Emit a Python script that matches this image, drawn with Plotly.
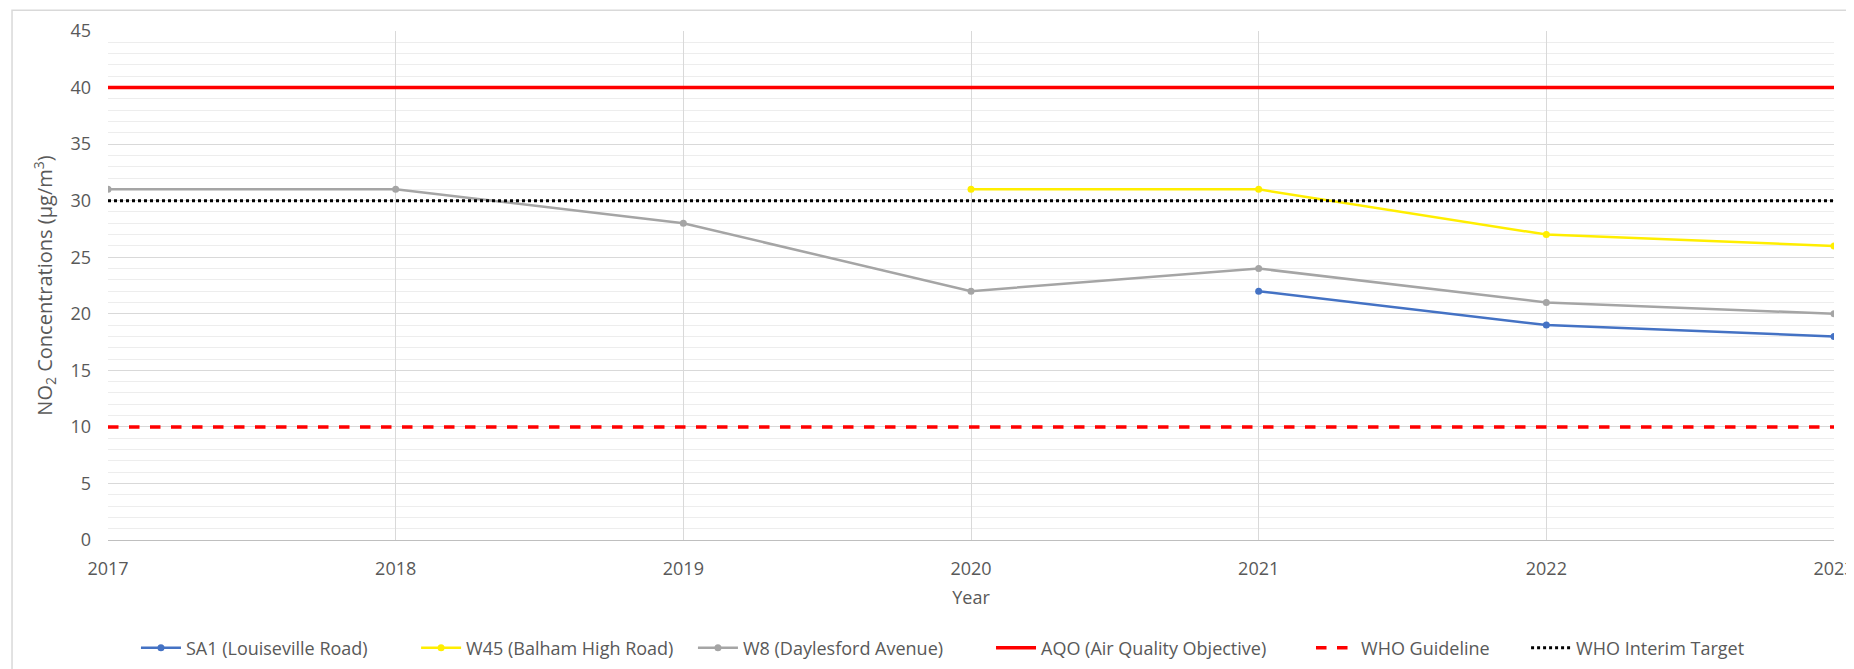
import plotly.graph_objects as go

years = [2017, 2018, 2019, 2020, 2021, 2022, 2023]

sa1_years = [2021, 2022, 2023]
sa1_values = [22, 19, 18]

w45_years = [2020, 2021, 2022, 2023]
w45_values = [31, 31, 27, 26]

w8_years = [2017, 2018, 2019, 2020, 2021, 2022, 2023]
w8_values = [31, 31, 28, 22, 24, 21, 20]

aqo_value = 40
who_guideline = 10
who_interim = 30

FONT = "Open Sans"
GREY = "#595959"

fig = go.Figure()

fig.add_trace(go.Scatter(x=sa1_years, y=sa1_values, mode="lines+markers",
                         name="SA1 (Louiseville Road)", legend="legend",
                         line=dict(color="#4472C4", width=2.5),
                         marker=dict(size=7, color="#4472C4")))
fig.add_trace(go.Scatter(x=w45_years, y=w45_values, mode="lines+markers",
                         name="W45 (Balham High Road)", legend="legend2",
                         line=dict(color="#FFEE00", width=2.5),
                         marker=dict(size=7, color="#FFEE00")))
fig.add_trace(go.Scatter(x=w8_years, y=w8_values, mode="lines+markers",
                         name="W8 (Daylesford Avenue)", legend="legend3",
                         line=dict(color="#A5A5A5", width=2.5),
                         marker=dict(size=7, color="#A5A5A5")))
fig.add_trace(go.Scatter(x=years, y=[aqo_value] * len(years), mode="lines",
                         name="AQO (Air Quality Objective)", legend="legend4",
                         line=dict(color="#FF0000", width=3.5)))
fig.add_trace(go.Scatter(x=years, y=[who_guideline] * len(years), mode="lines",
                         name="WHO Guideline", legend="legend5",
                         line=dict(color="#FF0000", width=3.5, dash="dash")))
fig.add_trace(go.Scatter(x=years, y=[who_interim] * len(years), mode="lines",
                         name="WHO Interim Target", legend="legend6",
                         line=dict(color="#000000", width=3, dash="dot")))

# outer chart border like the Excel chart area (runs off right/bottom like the source)
fig.add_shape(type="rect", xref="paper", yref="paper",
              x0=-0.0556, x1=1.03, y0=-0.3, y1=1.041,
              line=dict(color="#D9D9D9", width=1.5), layer="below")


def legend_at(x):
    return dict(orientation="h", x=x, xanchor="left",
                yref="container", y=0.0433, yanchor="middle",
                font=dict(size=18, color=GREY), itemwidth=40,
                bgcolor="rgba(0,0,0,0)")


# one legend per series so the entries sit where Excel spaced them
legend_x = [0.0162, 0.1785, 0.3389, 0.5116, 0.6970, 0.8216]

# margins allow for the 8px default body margin of the html page
fig.update_layout(
    width=1854, height=669,
    margin=dict(l=100, r=28, t=23, b=137),
    plot_bgcolor="white", paper_bgcolor="white",
    font=dict(family=FONT, size=18, color=GREY),
    showlegend=True,
    legend=legend_at(legend_x[0]),
    legend2=legend_at(legend_x[1]),
    legend3=legend_at(legend_x[2]),
    legend4=legend_at(legend_x[3]),
    legend5=legend_at(legend_x[4]),
    legend6=legend_at(legend_x[5]),
    xaxis=dict(range=[2017, 2023], tickvals=years, ticktext=[str(y) for y in years],
               showgrid=True, gridcolor="#D9D9D9", gridwidth=1, automargin=False,
               showline=True, linecolor="#BFBFBF", zeroline=False, ticks="",
               ticklabelstandoff=12,
               title=dict(text="Year", font=dict(size=18, color=GREY), standoff=12),
               tickfont=dict(size=18, color=GREY)),
    yaxis=dict(range=[0, 45], dtick=5, showgrid=True, gridcolor="#D9D9D9", gridwidth=1,
               minor=dict(dtick=1, showgrid=True, gridcolor="#EDEDED", gridwidth=1),
               zeroline=False, showline=False, ticks="", automargin=False,
               ticklabelstandoff=16,
               title=dict(text="NO<sub>2</sub> Concentrations (µg/m<sup>3</sup>)",
                          font=dict(size=20, color=GREY), standoff=12),
               tickfont=dict(size=18, color=GREY)),
)

fig.write_html("out.html")
